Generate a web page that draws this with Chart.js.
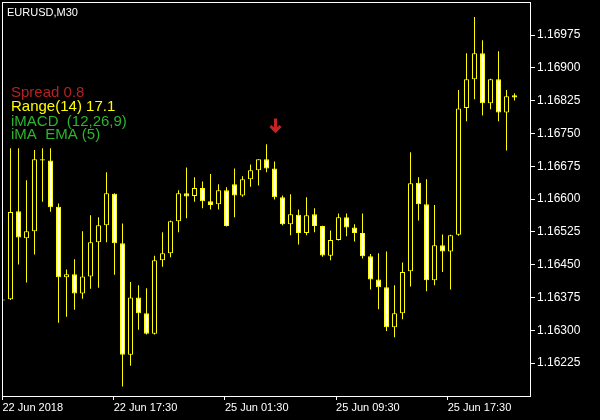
<!DOCTYPE html>
<html>
<head>
<meta charset="utf-8">
<script src="https://cdn.jsdelivr.net/npm/chart.js@4.4.1/dist/chart.umd.min.js"></script>
<style>
html,body{margin:0;padding:0;background:#000;}
#wrap{width:600px;height:420px;position:relative;}
</style>
</head>
<body>
<div id="wrap"><canvas id="c"></canvas></div>
<script>
// EURUSD M30 candles (index 0 = partially hidden bar at the left edge)
const opens = [1.16370,1.16371,1.16572,1.16510,1.16526,1.16691,1.16688,1.16582,1.16421,1.16428,
1.16384,1.16423,1.16501,1.16540,1.16612,1.16499,1.16244,1.16375,1.16339,1.16292,
1.16460,1.16476,1.16549,1.16613,1.16607,1.16625,1.16595,1.16588,1.16620,1.16634,
1.16608,1.16645,1.16666,1.16691,1.16670,1.16604,1.16542,1.16564,1.16522,1.16565,
1.16538,1.16470,1.16506,1.16558,1.16535,1.16522,1.16469,1.16416,1.16398,1.16307,
1.16339,1.16435,1.16637,1.16588,1.16414,1.16494,1.16480,1.16518,1.16808,1.16874,
1.16933,1.16819,1.16874,1.16798,1.16837];
const highs = [1.16370,1.16716,1.16716,1.16643,1.16712,1.16716,1.16716,1.16590,1.16439,1.16462,
1.16526,1.16563,1.16558,1.16661,1.16613,1.16544,1.16410,1.16403,1.16396,1.16470,
1.16524,1.16551,1.16620,1.16672,1.16650,1.16640,1.16657,1.16634,1.16627,1.16670,
1.16652,1.16679,1.16691,1.16725,1.16686,1.16608,1.16611,1.16576,1.16604,1.16579,
1.16539,1.16528,1.16567,1.16567,1.16542,1.16567,1.16474,1.16476,1.16480,1.16403,
1.16455,1.16707,1.16650,1.16645,1.16586,1.16519,1.16518,1.16849,1.16933,1.17016,
1.16963,1.16875,1.16938,1.16849,1.16842];
const lows = [1.16368,1.16369,1.16450,1.16409,1.16473,1.16594,1.16571,1.16317,1.16331,1.16347,
1.16372,1.16395,1.16397,1.16501,1.16427,1.16171,1.16219,1.16301,1.16290,1.16290,
1.16445,1.16467,1.16524,1.16556,1.16594,1.16579,1.16576,1.16576,1.16537,1.16558,
1.16605,1.16628,1.16631,1.16661,1.16599,1.16540,1.16517,1.16496,1.16517,1.16524,
1.16468,1.16460,1.16505,1.16515,1.16503,1.16464,1.16393,1.16348,1.16298,1.16284,
1.16325,1.16400,1.16551,1.16389,1.16403,1.16433,1.16393,1.16516,1.16778,1.16828,
1.16791,1.16805,1.16778,1.16711,1.16825];
const closes = [1.16368,1.16570,1.16512,1.16526,1.16691,1.16688,1.16581,1.16421,1.16428,1.16384,
1.16423,1.16501,1.16540,1.16613,1.16499,1.16244,1.16375,1.16339,1.16292,1.16460,
1.16476,1.16549,1.16613,1.16606,1.16625,1.16595,1.16586,1.16620,1.16538,1.16608,
1.16645,1.16666,1.16691,1.16670,1.16604,1.16542,1.16565,1.16522,1.16563,1.16538,
1.16471,1.16506,1.16558,1.16535,1.16522,1.16469,1.16416,1.16398,1.16307,1.16339,
1.16433,1.16636,1.16588,1.16414,1.16494,1.16480,1.16517,1.16807,1.16874,1.16933,
1.16819,1.16874,1.16798,1.16835,1.16832];

// axis ticks
const xTickPos = [0, 13.9, 27.8, 41.7, 55.65];
const xTickLabels = ['22 Jun 2018', '22 Jun 17:30', '25 Jun 01:30', '25 Jun 09:30', '25 Jun 17:30'];
const yTicks = [1.16225, 1.16300, 1.16375, 1.16450, 1.16525, 1.16600, 1.16675, 1.16750, 1.16825, 1.16900, 1.16975];

// signal arrow (bar index, price of tip)
const arrowIndex = [34];
const arrowPrice = [1.16752];

// overlay texts
const symbolText = 'EURUSD,M30';
const infoTexts = ['Spread 0.8', 'Range(14) 17.1', 'iMACD  (12,26,9)', 'iMA  EMA (5)'];

const bodyData = opens.map((o, i) => ({x: i, y: [Math.min(o, closes[i]), Math.max(o, closes[i])]}));
const wickData = highs.map((h, i) => ({x: i, y: [lows[i], h]}));
const bodyFill = opens.map((o, i) => closes[i] >= o ? '#000000' : '#ffffff');

Chart.defaults.font.family = "'Liberation Sans', Arial, sans-serif";

const overlay = {
  id: 'overlay',
  beforeDraw(chart) {
    const ctx = chart.ctx;
    ctx.save();
    ctx.fillStyle = '#000';
    ctx.fillRect(0, 0, chart.width, chart.height);
    ctx.restore();
  },
  afterDatasetsDraw(chart) {
    const ctx = chart.ctx;
    const a = chart.chartArea;
    const xs = chart.scales.x, ys = chart.scales.y;
    ctx.save();
    // arrow
    ctx.fillStyle = '#c62424';
    ctx.strokeStyle = '#c62424';
    arrowIndex.forEach((ix, k) => {
      const px = Math.round(xs.getPixelForValue(ix)) + 0.5;
      const py = ys.getPixelForValue(arrowPrice[k]);
      ctx.fillRect(px - 1.5, py - 14, 3, 11);
      ctx.lineWidth = 3;
      ctx.beginPath();
      ctx.moveTo(px - 5, py - 6.5);
      ctx.lineTo(px, py - 1.5);
      ctx.lineTo(px + 5, py - 6.5);
      ctx.stroke();
    });
    // frame
    ctx.strokeStyle = '#ffffff';
    ctx.lineWidth = 1;
    ctx.strokeRect(Math.round(a.left) + 0.5, Math.round(a.top) + 0.5,
                   Math.round(a.right - a.left), Math.round(a.bottom - a.top));
    ctx.restore();
  },
  afterDraw(chart) {
    const ctx = chart.ctx;
    ctx.save();
    ctx.textBaseline = 'alphabetic';
    ctx.textAlign = 'left';
    ctx.font = "11px 'Liberation Sans', Arial, sans-serif";
    ctx.fillStyle = '#ffffff';
    ctx.fillText(symbolText, 7, 15.5);
    const colors = ['#b42222', '#ffff00', '#2db42d', '#2db42d'];
    const base = [97.3, 111.2, 125.6, 139.4];
    ctx.font = "15px 'Liberation Sans', Arial, sans-serif";
    infoTexts.forEach((t, i) => {
      ctx.fillStyle = colors[i];
      ctx.fillText(t, 11, base[i]);
    });
    ctx.restore();
  }
};

new Chart(document.getElementById('c'), {
  type: 'bar',
  data: {
    datasets: [
      {
        label: 'body',
        data: bodyData,
        backgroundColor: bodyFill,
        borderColor: '#ffff00',
        borderWidth: 1,
        borderSkipped: false,
        barThickness: 5,
        inflateAmount: 0,
        grouped: false,
        order: 0
      },
      {
        label: 'wick',
        data: wickData,
        backgroundColor: '#ffff00',
        borderWidth: 0,
        barThickness: 1,
        inflateAmount: 0,
        grouped: false,
        order: 1
      }
    ]
  },
  options: {
    responsive: true,
    maintainAspectRatio: false,
    animation: false,
    events: [],
    layout: {padding: {left: 2, top: 2, right: 0, bottom: 0}},
    plugins: {legend: {display: false}, tooltip: {enabled: false}, title: {display: false}},
    scales: {
      x: {
        type: 'linear',
        position: 'bottom',
        min: -0.0625,
        max: 65.9375,
        offset: false,
        afterBuildTicks(s) { s.ticks = xTickPos.map(v => ({value: v})); },
        afterFit(s) { s.height = 24; s.paddingLeft = 0; s.paddingRight = 0; },
        grid: {drawOnChartArea: false, drawTicks: true, tickLength: 4, color: '#ffffff', offset: false},
        border: {display: false},
        ticks: {
          color: '#ffffff',
          font: {size: 11},
          align: 'start',
          padding: 1,
          autoSkip: false,
          maxRotation: 0,
          minRotation: 0,
          callback: (v, i) => xTickLabels[i]
        }
      },
      y: {
        type: 'linear',
        position: 'right',
        min: 1.1614955,
        max: 1.1705046,
        beginAtZero: false,
        afterBuildTicks(s) { s.ticks = yTicks.map(v => ({value: v})); },
        afterFit(s) { s.width = 70; s.paddingTop = 0; s.paddingBottom = 0; },
        grid: {drawOnChartArea: false, drawTicks: true, tickLength: 5, color: '#ffffff'},
        border: {display: false},
        ticks: {
          color: '#ffffff',
          font: {size: 12},
          padding: 2,
          autoSkip: false,
          callback: v => v.toFixed(5)
        }
      }
    }
  },
  plugins: [overlay]
});
</script>
</body>
</html>
